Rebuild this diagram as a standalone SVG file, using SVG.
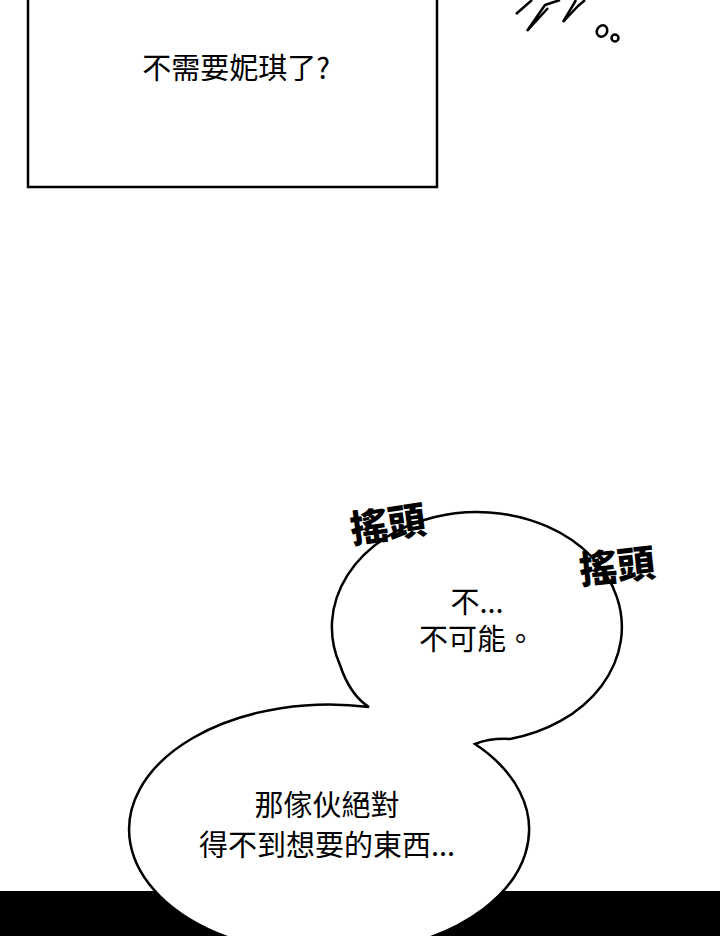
<svg xmlns="http://www.w3.org/2000/svg" width="720" height="936" viewBox="0 0 720 936">
<style>
.t{font-family:"Noto Sans CJK TC","Noto Sans CJK SC",sans-serif;font-size:29px;fill:#000;text-anchor:middle}
.h{font-family:"Noto Sans CJK TC",sans-serif;font-size:38px;font-weight:900;fill:#000;text-anchor:middle}
.ln{fill:none;stroke:#000;stroke-width:2.5;stroke-linejoin:round}
</style>
<rect width="720" height="936" fill="#fff"/>
<rect x="0" y="891" width="720" height="45" fill="#000"/>
<g id="box"><rect x="28" y="-4" width="409" height="191" fill="#fff" stroke="#000" stroke-width="2.5"/>
<text class="t" x="236" y="79">不需要妮琪了?</text></g>
<g id="scribble">
<path class="ln" d="M516,14 L532,0 M527,31 L545,5 L560,0 M527,31 L548,8 M563,22 L578,6 L585,0 M563,22 L576,0"/>
<ellipse cx="602" cy="31" rx="5" ry="6" transform="rotate(30 602 31)" class="ln"/>
<ellipse cx="615" cy="38" rx="3.5" ry="3.5" class="ln"/>
</g>
<g id="bubbles">
<path d="M369,707 A200,125 0 1 0 475,744 Q490,738 510,739 A145,115 0 1 0 340,665 Q350,695 369,707 Z" fill="#fff" stroke="#000" stroke-width="2.5" stroke-linejoin="miter"/>
<text class="t" x="477" y="613">不...</text>
<text class="t" x="477" y="650">不可能。</text>
<text class="t" x="327" y="816">那傢伙絕對</text>
<text class="t" x="327" y="856">得不到想要的東西...</text>
</g>
<g id="sfx">
<text class="h" x="388" y="538" transform="rotate(-8 388 525)">搖頭</text>
<text class="h" x="617" y="580" transform="rotate(-6 617 565)">搖頭</text>
</g>
</svg>
